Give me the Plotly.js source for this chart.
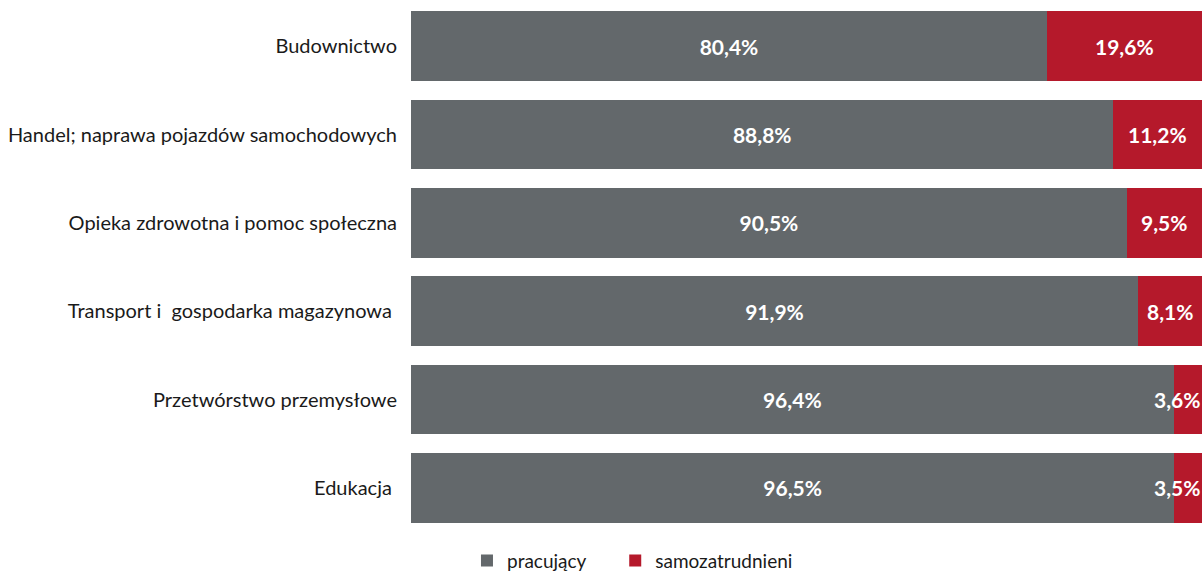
<!DOCTYPE html>
<html>
<head>
<meta charset="utf-8">
<script src="https://cdn.plot.ly/plotly-3.0.1.min.js"></script>
<style>
  html, body { margin: 0; padding: 0; background: #ffffff; }
  #chart { width: 1202px; height: 572px; }
</style>
</head>
<body>
<div id="chart"></div>
<script>
// Sectors, top to bottom
const sectors = [
  "Budownictwo",
  "Handel; naprawa pojazdów samochodowych",
  "Opieka zdrowotna i pomoc społeczna",
  "Transport i\u00a0 gospodarka magazynowa\u00a0",
  "Przetwórstwo przemysłowe",
  "Edukacja\u00a0"
];

// Share of employees vs self-employed (%)
const pracujacy = [80.4, 88.8, 90.5, 91.9, 96.4, 96.5];
const samozatrudnieni = [19.6, 11.2, 9.5, 8.1, 3.6, 3.5];

// Legend names (trailing non-breaking spaces widen the gap between entries)
const seriesNames = ["pracujący" + "\u00a0".repeat(5), "samozatrudnieni"];

const GREY = "#63686b";
const RED = "#b5192b";
const FONT = "Lato, 'Open Sans', sans-serif";

const fmt = v => v.toFixed(1).replace(".", ",") + "%";

const traces = [
  {
    type: "bar",
    orientation: "h",
    name: seriesNames[0],
    y: sectors,
    x: pracujacy,
    marker: { color: GREY },
    text: pracujacy.map(fmt),
    textposition: "inside",
    insidetextanchor: "middle",
    constraintext: "none",
    textfont: { family: FONT, size: 21, color: "#ffffff", weight: "bold" },
    hoverinfo: "skip"
  },
  {
    type: "bar",
    orientation: "h",
    name: seriesNames[1],
    y: sectors,
    x: samozatrudnieni,
    marker: { color: RED },
    hoverinfo: "skip"
  }
];

// Labels for the red segments: centred in the segment, or pushed
// against the right edge when the segment is too thin for the text.
const annotations = sectors.map((s, i) => {
  const w = samozatrudnieni[i];
  const thin = w < 6;
  return {
    xref: "x", yref: "y",
    x: thin ? 100 : pracujacy[i] + w / 2,
    y: s,
    xanchor: thin ? "right" : "center",
    yanchor: "middle",
    showarrow: false,
    text: "<b>" + fmt(w) + "</b>",
    font: { family: FONT, size: 21, color: "#ffffff" }
  };
});

const layout = {
  width: 1202,
  height: 572,
  margin: { l: 411, r: 0, t: 2, b: 40, autoexpand: false },
  barmode: "stack",
  bargap: 0.21,
  paper_bgcolor: "#ffffff",
  plot_bgcolor: "#ffffff",
  showlegend: true,
  legend: {
    orientation: "h",
    traceorder: "normal",
    xref: "container", yref: "container",
    x: 0.3885, xanchor: "left",
    y: 0.02, yanchor: "middle",
    font: { family: FONT, size: 19, color: "#1a1a1a" },
    itemclick: false, itemdoubleclick: false
  },
  xaxis: {
    range: [0, 100],
    showgrid: false, zeroline: false, showticklabels: false, showline: false
  },
  yaxis: {
    type: "category",
    autorange: "reversed",
    showgrid: false, zeroline: false, showline: false,
    ticks: "",
    ticklabelstandoff: 13,
    tickfont: { family: FONT, size: 20, color: "#1a1a1a" }
  },
  annotations: annotations
};

Plotly.newPlot("chart", traces, layout, { staticPlot: true, displayModeBar: false });
</script>
</body>
</html>
